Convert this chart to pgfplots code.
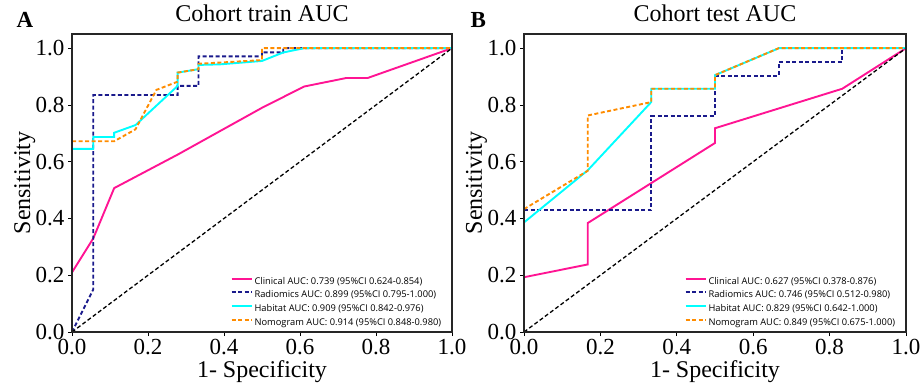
\documentclass[border=0pt]{standalone}
\usepackage{fontspec}
\setmainfont{Liberation Serif}
\newfontfamily\legfont{Open Sans}
\usepackage{pgfplots}
\pgfplotsset{compat=1.18}
\definecolor{cpink}{HTML}{FF1493}
\definecolor{cnavy}{HTML}{1A1A8C}
\definecolor{ccyan}{HTML}{00FFFF}
\definecolor{corange}{HTML}{FF8C00}
\tikzset{dsh/.style={dash pattern=on 4bp off 2.5bp}}
\pgfplotsset{legend image code/.code={\draw[#1, line width=2bp] (0bp,2.8bp) -- (20bp,2.8bp);}}
\pgfplotsset{rocax/.style={
  scale only axis, width=380bp, height=298bp,
  xmin=0, xmax=1, ymin=0, ymax=1.05, axis on top,
  axis line style={line width=1.1bp, black!85},
  xtick={0,0.2,0.4,0.6,0.8,1}, ytick={0,0.2,0.4,0.6,0.8,1},
  xticklabels={0.0,0.2,0.4,0.6,0.8,1.0}, yticklabels={0.0,0.2,0.4,0.6,0.8,1.0},
  tick align=outside, xtick pos=bottom, ytick pos=left, major tick length=4bp,
  tick style={line width=0.8bp, black},
  tick label style={font=\fontsize{23bp}{24bp}\selectfont},
  label style={font=\fontsize{24bp}{26bp}\selectfont},
  xlabel={1- Specificity},
  xlabel style={at={(axis description cs:0.5,-0.151)}, anchor=base},
  ylabel={Sensitivity},
  ylabel style={at={(axis description cs:-0.1105,0.5)}, anchor=base},
  title style={at={(axis description cs:0.5,1.0235)}, anchor=base, font=\fontsize{24bp}{26bp}\selectfont},
  legend style={at={(rel axis cs:0.985,0)}, anchor=south east, yshift=1bp, draw=none, fill=none,
    font=\legfont\fontsize{9.3bp}{10.5bp}\selectfont, row sep=1.3bp},
  legend cell align=left,
}}
\begin{document}
\begin{tikzpicture}
\useasboundingbox (-72bp,-55bp) rectangle (849bp,332bp);
% Panel A
\begin{axis}[rocax, at={(0bp,0bp)}, title={Cohort train AUC}]
\addplot[color=cpink, line width=1.9bp] coordinates {(0,0.21) (0.056,0.33) (0.111,0.507) (0.278,0.625) (0.5,0.79) (0.611,0.865) (0.722,0.895) (0.778,0.895) (1,1)};
\addlegendentry{Clinical AUC: 0.739 (95\%CI 0.624-0.854)}
\addplot[color=cnavy, line width=1.9bp, dsh] coordinates {(0,0) (0.056,0.15) (0.056,0.835) (0.278,0.835) (0.278,0.867) (0.333,0.867) (0.333,0.971) (0.5,0.971) (0.5,0.985) (0.556,0.985) (0.556,1) (1,1)};
\addlegendentry{Radiomics AUC: 0.899 (95\%CI 0.795-1.000)}
\addplot[color=ccyan, line width=1.9bp] coordinates {(0,0.645) (0.056,0.645) (0.056,0.687) (0.111,0.687) (0.111,0.702) (0.167,0.729) (0.278,0.867) (0.278,0.914) (0.333,0.926) (0.333,0.941) (0.389,0.943) (0.5,0.955) (0.556,0.985) (0.611,1) (1,1)};
\addlegendentry{Habitat AUC: 0.909 (95\%CI 0.842-0.976)}
\addplot[color=corange, line width=1.9bp, dsh] coordinates {(0,0.672) (0.111,0.672) (0.167,0.714) (0.222,0.853) (0.278,0.882) (0.278,0.914) (0.333,0.926) (0.333,0.945) (0.5,0.958) (0.5,1) (1,1)};
\addlegendentry{Nomogram AUC: 0.914 (95\%CI 0.848-0.980)}
\addplot[black, dsh, line width=1.3bp, forget plot] coordinates {(0,0) (1,1)};
\end{axis}
% Panel B
\begin{axis}[rocax, width=382bp, at={(452bp,0bp)}, title={Cohort test AUC}]
\addplot[color=cpink, line width=1.9bp] coordinates {(0,0.193) (0.167,0.238) (0.167,0.384) (0.5,0.666) (0.5,0.718) (0.833,0.857) (1,1)};
\addlegendentry{Clinical AUC: 0.627 (95\%CI 0.378-0.876)}
\addplot[color=cnavy, line width=1.9bp, dsh] coordinates {(0,0.43) (0.333,0.43) (0.333,0.761) (0.5,0.761) (0.5,0.903) (0.667,0.903) (0.667,0.95) (0.833,0.95) (0.833,1) (1,1)};
\addlegendentry{Radiomics AUC: 0.746 (95\%CI 0.512-0.980)}
\addplot[color=ccyan, line width=1.9bp] coordinates {(0,0.386) (0.167,0.57) (0.333,0.81) (0.333,0.857) (0.5,0.857) (0.5,0.905) (0.667,1) (1,1)};
\addlegendentry{Habitat AUC: 0.829 (95\%CI 0.642-1.000)}
\addplot[color=corange, line width=1.9bp, dsh] coordinates {(0,0.433) (0.167,0.568) (0.167,0.763) (0.333,0.81) (0.333,0.857) (0.5,0.857) (0.5,0.905) (0.667,1) (1,1)};
\addlegendentry{Nomogram AUC: 0.849 (95\%CI 0.675-1.000)}
\addplot[black, dsh, line width=1.3bp, forget plot] coordinates {(0,0) (1,1)};
\end{axis}
\node[anchor=base west, font=\bfseries\fontsize{23bp}{24bp}\selectfont] at (-59bp,304bp) {A};
\node[anchor=base west, font=\bfseries\fontsize{23bp}{24bp}\selectfont] at (395bp,304bp) {B};
\end{tikzpicture}
\end{document}
